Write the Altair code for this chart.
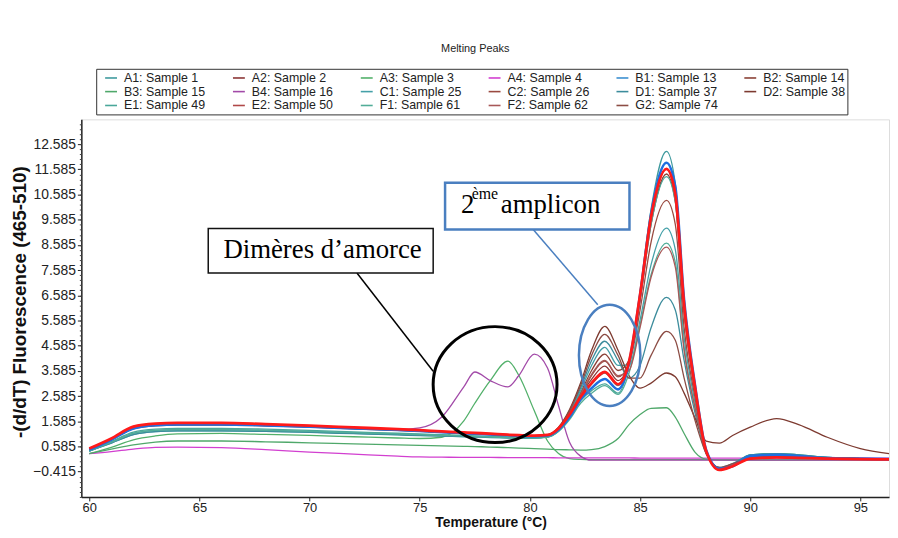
import altair as alt
import pandas as pd

# ---------------- data ----------------
temps = [60, 61, 62, 63, 64, 66, 68, 70, 72, 74, 75, 76, 77, 77.5, 78.2, 79, 79.5,
         80.2, 80.8, 81.3, 81.8, 82.3, 82.8, 83.4, 84, 84.5, 85, 85.5, 86.2, 86.6,
         87, 87.5, 88, 88.6, 89.2, 90, 91.2, 92.2, 93.5, 95, 96.3]

samples = ["A1: Sample 1", "A2: Sample 2", "A3: Sample 3", "A4: Sample 4",
           "B1: Sample 13", "B2: Sample 14", "B3: Sample 15", "B4: Sample 16",
           "C1: Sample 25", "C2: Sample 26", "D1: Sample 37", "D2: Sample 38",
           "E1: Sample 49", "E2: Sample 50", "F1: Sample 61", "F2: Sample 62",
           "G2: Sample 74"]

colors = ["#3f9a9e", "#8b3535", "#52b06a", "#d23fd0",
          "#3b8fd0", "#8a4035", "#4fa86a", "#a24aa8",
          "#44a0a8", "#9a4a40", "#3c8c9c", "#7d3a30",
          "#4aa79a", "#b04848", "#52ad98", "#a85858",
          "#8c4c44"]

a1 = [0.4, 0.75, 1.1, 1.22, 1.25, 1.25, 1.22, 1.18, 1.13, 1.08, 1.05, 1.02, 1.0, 0.98, 0.96, 0.94, 0.93,
      0.92, 0.96, 1.2, 1.75, 2.5, 3.05, 3.5, 3.0, 3.9, 6.7, 10.0, 12.3, 11.0,
      6.3, 2.9, 0.4, -0.3, -0.15, 0.25, 0.3, 0.25, 0.15, 0.1, 0.08]
a2 = [0.5, 0.9, 1.35, 1.47, 1.5, 1.5, 1.46, 1.4, 1.33, 1.26, 1.22, 1.17, 1.13, 1.11, 1.08, 1.04, 1.02,
      1.0, 1.03, 1.3, 1.85, 2.6, 3.25, 3.77, 3.2, 3.9, 6.5, 9.6, 11.6, 10.5,
      6.0, 2.8, 0.4, -0.3, -0.15, 0.15, 0.2, 0.18, 0.12, 0.1, 0.08]
a3 = [0.3, 0.55, 0.85, 1.0, 1.08, 1.1, 1.06, 1.02, 0.97, 0.92, 0.9, 0.95, 1.6, 2.3, 3.2, 3.97, 3.4,
      2.0, 0.8, 0.3, 0.1, 0.07, 0.06, 0.06, 0.06, 0.06, 0.06, 0.06, 0.06, 0.06,
      0.06, 0.06, 0.06, 0.05, 0.05, 0.05, 0.05, 0.05, 0.05, 0.05, 0.05]
a4 = [0.3, 0.38, 0.48, 0.55, 0.56, 0.54, 0.46, 0.36, 0.28, 0.2, 0.17, 0.16, 0.15, 0.15, 0.15, 0.14, 0.14,
      0.14, 0.14, 0.13, 0.13, 0.13, 0.13, 0.13, 0.13, 0.13, 0.12, 0.12, 0.12, 0.12,
      0.12, 0.12, 0.12, 0.12, 0.12, 0.12, 0.12, 0.12, 0.12, 0.12, 0.12]
b1 = [0.45, 0.85, 1.3, 1.43, 1.46, 1.46, 1.42, 1.37, 1.3, 1.24, 1.2, 1.15, 1.11, 1.09, 1.06, 1.03, 1.01,
      0.99, 1.02, 1.25, 1.75, 2.45, 2.9, 3.26, 2.85, 3.9, 6.6, 9.8, 11.85, 10.9,
      6.4, 3.0, 0.45, -0.3, -0.2, 0.2, 0.25, 0.2, 0.12, 0.1, 0.08]
b2 = [0.5, 0.88, 1.33, 1.45, 1.48, 1.48, 1.44, 1.38, 1.31, 1.25, 1.21, 1.16, 1.12, 1.1, 1.07, 1.03, 1.01,
      0.99, 1.03, 1.3, 1.9, 2.7, 3.6, 4.25, 3.6, 4.0, 6.4, 9.4, 11.4, 10.3,
      5.9, 2.7, 0.4, -0.3, -0.15, 0.15, 0.2, 0.18, 0.12, 0.1, 0.08]
b3 = [0.3, 0.48, 0.65, 0.76, 0.8, 0.8, 0.77, 0.73, 0.69, 0.65, 0.63, 0.61, 0.59, 0.58, 0.56, 0.54, 0.52,
      0.5, 0.48, 0.46, 0.45, 0.44, 0.46, 0.58, 0.9, 1.45, 1.85, 2.1, 2.12, 1.75,
      1.1, 0.35, 0.08, 0.05, 0.05, 0.05, 0.05, 0.05, 0.05, 0.05, 0.05]
b4 = [0.48, 0.87, 1.3, 1.43, 1.46, 1.46, 1.42, 1.37, 1.3, 1.26, 1.32, 1.75, 2.95, 3.54, 3.2, 2.95, 3.4,
      4.25, 3.7, 2.2, 0.75, 0.2, 0.04, 0.04, 0.04, 0.04, 0.04, 0.04, 0.04, 0.04,
      0.04, 0.04, 0.04, 0.04, 0.04, 0.04, 0.04, 0.04, 0.04, 0.04, 0.04]
c1 = [0.4, 0.72, 1.05, 1.17, 1.2, 1.2, 1.18, 1.15, 1.1, 1.05, 1.02, 1.0, 0.98, 0.97, 0.95, 0.93, 0.92,
      0.92, 0.96, 1.25, 1.9, 2.8, 3.8, 4.52, 3.8, 3.8, 5.6, 7.8, 9.25, 8.4,
      4.9, 2.3, 0.35, -0.3, -0.15, 0.25, 0.3, 0.25, 0.15, 0.1, 0.08]
c2 = [0.48, 0.87, 1.3, 1.43, 1.46, 1.46, 1.42, 1.37, 1.3, 1.24, 1.2, 1.15, 1.11, 1.09, 1.06, 1.03, 1.01,
      0.99, 1.03, 1.28, 1.85, 2.6, 3.4, 3.97, 3.35, 3.85, 6.0, 8.7, 10.35, 9.4,
      5.3, 2.5, 0.35, -0.3, -0.15, 0.15, 0.2, 0.18, 0.12, 0.1, 0.08]
d1 = [0.4, 0.72, 1.05, 1.17, 1.2, 1.2, 1.18, 1.14, 1.09, 1.04, 1.01, 0.99, 0.97, 0.96, 0.94, 0.93, 0.92,
      0.92, 0.96, 1.25, 1.95, 2.9, 4.0, 4.76, 4.0, 3.3, 3.8, 5.3, 6.5, 6.0,
      4.0, 1.9, 0.3, -0.25, -0.1, 0.25, 0.3, 0.25, 0.15, 0.1, 0.08]
d2 = [0.48, 0.87, 1.3, 1.43, 1.46, 1.46, 1.42, 1.37, 1.3, 1.24, 1.2, 1.15, 1.11, 1.09, 1.06, 1.03, 1.01,
      1.0, 1.05, 1.35, 2.05, 3.1, 4.4, 5.35, 4.4, 3.4, 2.9, 3.1, 3.5, 3.35,
      2.7, 1.7, 0.8, 0.72, 1.02, 1.35, 1.69, 1.45, 0.95, 0.5, 0.3]
e1 = [0.42, 0.78, 1.15, 1.27, 1.3, 1.3, 1.27, 1.22, 1.16, 1.11, 1.08, 1.05, 1.02, 1.0, 0.98, 0.96, 0.95,
      0.94, 0.97, 1.2, 1.7, 2.4, 2.8, 3.07, 2.7, 3.8, 6.4, 9.4, 11.3, 10.3,
      6.0, 2.8, 0.4, -0.3, -0.15, 0.2, 0.25, 0.2, 0.12, 0.1, 0.08]
e2 = [0.5, 0.9, 1.37, 1.49, 1.52, 1.52, 1.47, 1.41, 1.34, 1.27, 1.23, 1.18, 1.14, 1.12, 1.09, 1.05, 1.03,
      1.01, 1.04, 1.3, 1.85, 2.55, 3.1, 3.54, 3.05, 3.95, 6.6, 9.7, 11.6, 10.6,
      6.2, 2.9, 0.4, -0.35, -0.2, 0.1, 0.15, 0.13, 0.1, 0.08, 0.07]
f1 = [0.4, 0.75, 1.1, 1.22, 1.25, 1.25, 1.22, 1.18, 1.13, 1.08, 1.05, 1.02, 1.0, 0.98, 0.96, 0.94, 0.93,
      0.92, 0.95, 1.18, 1.65, 2.3, 2.7, 3.0, 2.65, 3.5, 5.4, 7.4, 8.66, 7.9,
      4.5, 2.1, 0.35, -0.3, -0.15, 0.2, 0.25, 0.2, 0.12, 0.1, 0.08]
f2 = [0.48, 0.86, 1.3, 1.42, 1.45, 1.45, 1.41, 1.36, 1.29, 1.23, 1.19, 1.14, 1.1, 1.08, 1.05, 1.02, 1.0,
      0.99, 1.03, 1.28, 1.85, 2.65, 3.45, 4.0, 3.4, 3.6, 5.3, 7.3, 8.5, 7.7,
      4.4, 2.1, 0.35, -0.3, -0.15, 0.15, 0.2, 0.18, 0.12, 0.1, 0.08]
g2 = [0.47, 0.85, 1.28, 1.4, 1.43, 1.43, 1.4, 1.35, 1.28, 1.22, 1.18, 1.14, 1.1, 1.08, 1.05, 1.02, 1.0,
      0.99, 1.04, 1.32, 2.0, 3.0, 4.2, 5.03, 4.2, 3.3, 3.3, 4.2, 5.15, 4.8,
      3.3, 1.6, 0.3, -0.25, -0.1, 0.15, 0.2, 0.18, 0.12, 0.1, 0.08]

series_values = [a1, a2, a3, a4, b1, b2, b3, b4, c1, c2, d1, d2, e1, e2, f1, f2, g2]

# samples highlighted (selected) in the instrument software
highlight_blue = ["B1: Sample 13"]
highlight_red = ["E2: Sample 50"]

y_ticks = [-0.415, 0.585, 1.585, 2.585, 3.585, 4.585, 5.585, 6.585, 7.585,
           8.585, 9.585, 10.585, 11.585, 12.585]
y_minor_ticks = [round(-1.415 + 0.2 * i, 3) for i in range(75)]
x_ticks = [60, 65, 70, 75, 80, 85, 90, 95]

# annotations (data coordinates)
box_dimer = {"x": 65.40, "x2": 75.61, "y": 9.24, "y2": 7.47}
box_ampl = {"x": 76.15, "x2": 84.52, "y": 11.05, "y2": 9.20}
leader_lines = [
    {"x": 72.15, "y": 7.47, "x2": 75.61, "y2": 3.57, "c": "black"},
    {"x": 80.15, "y": 9.20, "x2": 83.08, "y2": 6.21, "c": "#4a7fc0"},
]
circle_dimer = {"x": 78.42, "y": 3.04}
circle_ampl = {"x": 83.62, "y": 4.20}
label_dimer = {"x": 70.59, "y": 8.06, "t": "Dimères d’amorce"}
label_two = {"x": 76.87, "y": 9.87, "t": "2"}
label_sup = {"x": 77.36, "y": 10.40, "t": "ème"}
label_ampl = {"x": 78.68, "y": 9.87, "t": "amplicon"}

# ---------------- build ----------------
rows = []
for name, vals in zip(samples, series_values):
    for t, v in zip(temps, vals):
        rows.append({"sample": name, "temp": t, "value": v})
df = pd.DataFrame(rows)

X_DOM = [59.64, 96.30]
Y_DOM = [-1.42, 13.57]
FONT = "Liberation Sans"

xs = alt.Scale(domain=X_DOM, nice=False, zero=False)
ys = alt.Scale(domain=Y_DOM, nice=False, zero=False)

x_enc = alt.X("temp:Q", scale=xs, axis=alt.Axis(
    values=x_ticks, tickCount=30, title="Temperature (°C)", grid=False, format="d",
    labelFont=FONT, labelFontSize=13, labelColor="#222", labelPadding=1,
    titleFont=FONT, titleFontSize=14, titleFontWeight="bold", titleColor="#111",
    titleX=413, titleY=30, titleBaseline="alphabetic",
    tickSize=4, tickColor="#222", domainColor="#222", domainWidth=1.5))
y_enc = alt.Y("value:Q", scale=ys, axis=alt.Axis(
    values=y_ticks, tickCount=30, format=".3f", title="-(d/dT) Fluorescence (465-510)",
    grid=False, orient="left",
    labelFont=FONT, labelFontSize=14, labelColor="#222", labelPadding=2,
    labelOverlap=False, labelBound=False, labelFlush=False,
    titleFont=FONT, titleFontSize=19, titleFontWeight="bold", titleColor="#111",
    titlePadding=3, titleY=184,
    tickSize=4, tickColor="#222", domainColor="#222", domainWidth=1.5))
y_minor = alt.Y("value:Q", scale=ys, axis=alt.Axis(
    values=y_minor_ticks, tickCount=100, labels=False, domain=False, grid=False,
    title=None, orient="left", tickSize=2, tickColor="#444"))
y_none = alt.Y("value:Q", scale=ys, axis=None)

base = alt.Chart(df)

lines = base.mark_line(strokeWidth=1.3, interpolate="monotone").encode(
    x=x_enc, y=y_enc,
    color=alt.Color("sample:N", scale=alt.Scale(domain=samples, range=colors),
                    sort=samples,
                    legend=alt.Legend(
                        title=None, orient="none", legendX=15, legendY=-51,
                        direction="horizontal",
                        columns=6, gridAlign="all", symbolType="stroke",
                        symbolSize=144, symbolStrokeWidth=1.6, symbolOffset=6,
                        labelFont=FONT, labelFontSize=12.5, labelColor="#222",
                        labelOffset=6, columnPadding=19, rowPadding=-8,
                        padding=2, strokeColor="#333", fillColor="white")),
    detail="sample:N",
)

hl_blue = base.transform_filter(
    alt.FieldOneOfPredicate(field="sample", oneOf=highlight_blue)
).mark_line(strokeWidth=2.6, color="#1f6fe0", interpolate="monotone").encode(
    x="temp:Q", y=y_minor)

hl_red = base.transform_filter(
    alt.FieldOneOfPredicate(field="sample", oneOf=highlight_red)
).mark_line(strokeWidth=2.8, color="#ff1a1a", interpolate="monotone").encode(
    x="temp:Q", y=y_none)

# annotation boxes
ay = alt.Y("y:Q", scale=ys, axis=None)
rect_dimer = alt.Chart(pd.DataFrame([box_dimer])).mark_rect(
    fill="white", stroke="#111", strokeWidth=1.5).encode(
    x="x:Q", x2="x2:Q", y=ay, y2="y2:Q")
rect_ampl = alt.Chart(pd.DataFrame([box_ampl])).mark_rect(
    fill="white", stroke="#4a7fc0", strokeWidth=2.5).encode(
    x="x:Q", x2="x2:Q", y=ay, y2="y2:Q")

rules = alt.Chart(pd.DataFrame(leader_lines)).mark_rule(strokeWidth=1.5).encode(
    x="x:Q", y=ay, x2="x2:Q", y2="y2:Q",
    color=alt.Color("c:N", scale=None))

ELL_BLACK = ("M -1 0 C -1 -0.517 -0.5523 -0.936 0 -0.936 C 0.5523 -0.936 1 -0.517 1 0 "
             "C 1 0.517 0.5523 0.936 0 0.936 C -0.5523 0.936 -1 0.517 -1 0 Z")
ELL_BLUE = ("M -1 0 C -1 -0.9085 -0.5523 -1.645 0 -1.645 C 0.5523 -1.645 1 -0.9085 1 0 "
            "C 1 0.9085 0.5523 1.645 0 1.645 C -0.5523 1.645 -1 0.9085 -1 0 Z")

circ1 = alt.Chart(pd.DataFrame([circle_dimer])).mark_point(
    shape=ELL_BLACK, size=15625, filled=False, color="black",
    strokeWidth=3, opacity=1).encode(x="x:Q", y=ay)
circ2 = alt.Chart(pd.DataFrame([circle_ampl])).mark_point(
    shape=ELL_BLUE, size=3844, filled=False, color="#4a7fc0",
    strokeWidth=2.5, opacity=1).encode(x="x:Q", y=ay)

SERIF = "Liberation Serif"
txt_dimer = alt.Chart(pd.DataFrame([label_dimer])).mark_text(
    font=SERIF, fontSize=27, align="center", baseline="alphabetic", color="black").encode(
    x="x:Q", y=ay, text="t:N")
txt_two = alt.Chart(pd.DataFrame([label_two])).mark_text(
    font=SERIF, fontSize=27, align="left", baseline="alphabetic", color="black").encode(
    x="x:Q", y=ay, text="t:N")
txt_sup = alt.Chart(pd.DataFrame([label_sup])).mark_text(
    font=SERIF, fontSize=16, align="left", baseline="alphabetic", color="black").encode(
    x="x:Q", y=ay, text="t:N")
txt_ampl = alt.Chart(pd.DataFrame([label_ampl])).mark_text(
    font=SERIF, fontSize=27, align="left", baseline="alphabetic", color="black").encode(
    x="x:Q", y=ay, text="t:N")

chart = alt.layer(
    lines, hl_blue, hl_red, rules, circ1, circ2,
    rect_dimer, rect_ampl, txt_dimer, txt_two, txt_sup, txt_ampl
).resolve_scale(y="shared").resolve_axis(y="independent").properties(
    width=815, height=381,
    title=alt.TitleParams("Melting Peaks", font=FONT, fontSize=11, fontWeight="normal",
                          color="#222", anchor="middle", dx=-10, offset=14),
    autosize=alt.AutoSizeParams(type="none"),
    padding={"left": 74, "top": 110, "right": 1, "bottom": 31},
).configure_view(stroke="#555", strokeWidth=1).configure(background="white")

chart.save("out.html", embed_options={"renderer": "svg", "actions": False})
